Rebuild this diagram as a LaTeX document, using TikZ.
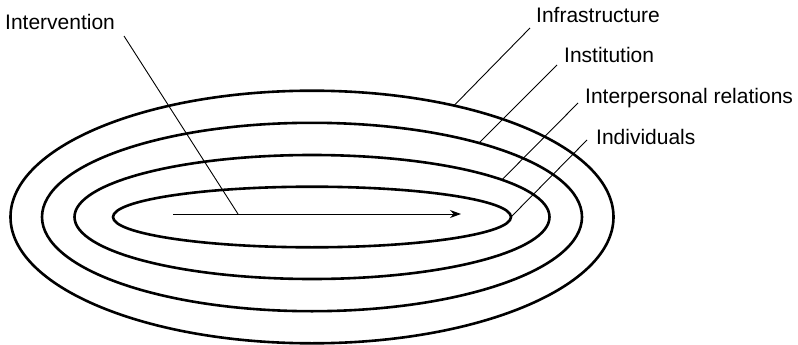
\documentclass[tikz,border=0pt]{standalone}
\usepackage{fontspec}
\setmainfont{Liberation Sans}
\usetikzlibrary{arrows.meta,calc}
\begin{document}
\begin{tikzpicture}[x=1pt,y=-1pt,
  ring/.style={line width=2.6pt},
  leader/.style={line width=0.9pt},
  lbl/.style={inner sep=0pt,anchor=base west,font=\fontsize{21}{25}\selectfont}]
\useasboundingbox (0,0) rectangle (798,345);
\coordinate (c) at (312,217);
% rings
\draw[ring] (c) ellipse [x radius=301.5, y radius=126.3];
\draw[ring] (c) ellipse [x radius=270, y radius=94.2];
\draw[ring] (c) ellipse [x radius=237.5, y radius=62];
\draw[ring] (c) ellipse [x radius=199, y radius=30.3];
% points on rings
\coordinate (p1) at ($(c)+(61.9:301.5 and -126.3)$);
\coordinate (p2) at ($(c)+(51.8:270 and -94.2)$);
\coordinate (p3) at ($(c)+(36.87:237.5 and -62)$);
\coordinate (p4) at ($(c)+(0:199 and -30.3)$);
% labels
\node[lbl] (tInt) at (5,30) {Intervention};
\node[lbl] (tInf) at (536,23) {Infrastructure};
\node[lbl] (tIns) at (564,63) {Institution};
\node[lbl] (tIpr) at (585,103) {Interpersonal relations};
\node[lbl] (tInd) at (596,144) {Individuals};
% leader start points
\coordinate (s0) at (124,36);
\coordinate (s1) at (530,28);
\coordinate (s2) at (557,65);
\coordinate (s3) at (578,103);
\coordinate (s4) at (587,140);
% arrow
\coordinate (a0) at (173,214);
\coordinate (a1) at (461,214);
\coordinate (am) at (238,214);
\draw[leader,-{Stealth[length=11pt,width=8pt]}] (a0) -- (a1);
\draw[leader] (s0) -- (am);
\draw[leader] (s1) -- (p1);
\draw[leader] (s2) -- (p2);
\draw[leader] (s3) -- (p3);
\draw[leader] (s4) -- (p4);
\end{tikzpicture}
\end{document}
